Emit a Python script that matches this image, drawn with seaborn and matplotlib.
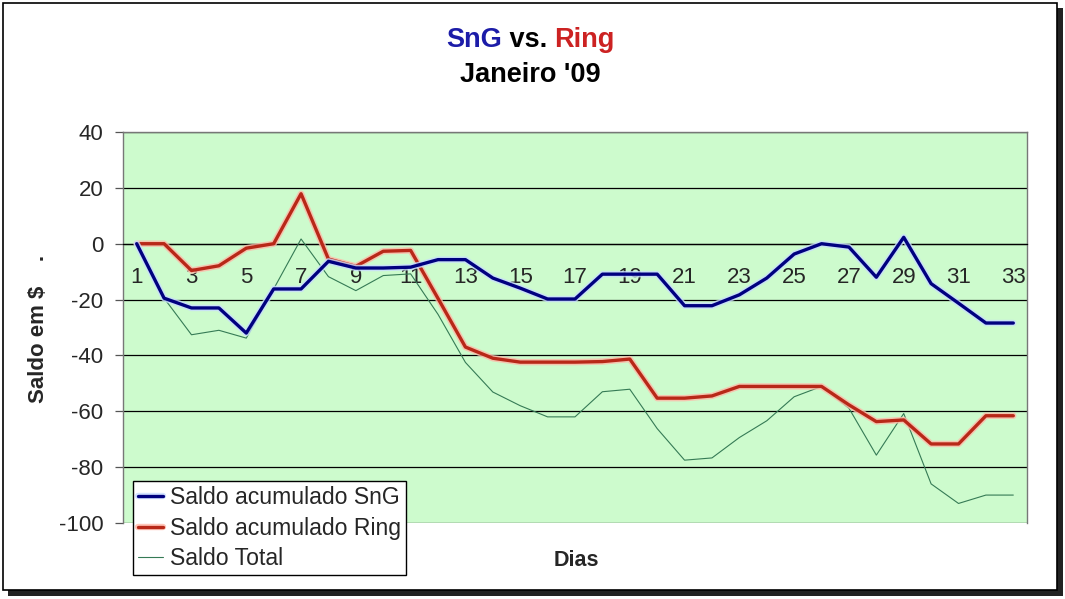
import matplotlib
matplotlib.use("Agg")
import numpy as np
import pandas as pd
import seaborn as sns
import matplotlib.pyplot as plt
import matplotlib.patheffects as pe
from matplotlib.patches import Rectangle

# ---------------- data ----------------
dias = [1, 2, 3, 4, 5, 6, 7, 8, 9, 10, 11, 12, 13, 14, 15, 16, 17,
        18, 19, 20, 21, 22, 23, 24, 25, 26, 27, 28, 29, 30, 31, 32, 33]
saldo_sng = [0, -19.5, -23, -23, -32, -16.2, -16.2, -6.3, -8.7, -8.7, -8.4,
             -5.7, -5.7, -12.3, -15.9, -19.8, -19.8, -10.9, -10.9, -10.9,
             -22.2, -22.2, -18.3, -12.3, -3.7, 0, -1.2, -12, 2.3, -14.3,
             -21.3, -28.4, -28.4]
saldo_ring = [0, 0, -9.6, -7.9, -1.6, 0, 17.9, -5.5, -8.1, -2.7, -2.4,
              -19.6, -37, -41, -42.4, -42.4, -42.4, -42.2, -41.3, -55.3,
              -55.3, -54.5, -51.1, -51.1, -51.1, -51.1, -57.7, -63.7, -63.1,
              -71.7, -71.7, -61.6, -61.6]
saldo_total = [0, -19.5, -32.6, -31, -33.8, -16.2, 1.7, -11.8, -16.8, -11.4,
               -10.8, -25.3, -42.5, -53.1, -58, -62, -62, -53, -52.1, -66.2,
               -77.5, -76.7, -69.4, -63.4, -54.8, -51.1, -58.9, -75.7, -60.8,
               -86, -93, -90, -90]
series_names = ["Saldo acumulado SnG", "Saldo acumulado Ring", "Saldo Total"]
y_ticks = [40, 20, 0, -20, -40, -60, -80, -100]
x_tick_labels = [1, 3, 5, 7, 9, 11, 13, 15, 17, 19, 21, 23, 25, 27, 29, 31, 33]

df = pd.DataFrame({"Dia": dias, series_names[0]: saldo_sng,
                   series_names[1]: saldo_ring, series_names[2]: saldo_total})

# ---------------- style ----------------
sns.set_style("white")
plt.rcParams["font.family"] = ["Liberation Sans", "DejaVu Sans"]

W, H = 1065, 599
fig = plt.figure(figsize=(W / 100, H / 100), dpi=100)
fig.patch.set_facecolor("white")

# figure frame with drop shadow
fig.patches.append(Rectangle((8 / W, 1 - 596 / H), (1063 - 8) / W, (596 - 8) / H,
                             transform=fig.transFigure, facecolor="#222222",
                             edgecolor="none", zorder=-10))
fig.patches.append(Rectangle((3 / W, 1 - 590 / H), (1057 - 3) / W, (590 - 3) / H,
                             transform=fig.transFigure, facecolor="white",
                             edgecolor="black", linewidth=1.2, zorder=-9))

left, right, top, bottom = 123, 1027, 132, 523
ax = fig.add_axes([left / W, 1 - bottom / H, (right - left) / W, (bottom - top) / H])
ax.set_facecolor("#cdfbcd")

blue = "#00007f"
red = "#b82818"
green = "#357a55"

sns.lineplot(data=df, x="Dia", y=series_names[2], ax=ax, color=green,
             linewidth=0.8, label=series_names[2], zorder=3)
sns.lineplot(data=df, x="Dia", y=series_names[1], ax=ax, color=red,
             linewidth=2.4, label=series_names[1], zorder=4,
             path_effects=[pe.Stroke(linewidth=4.6, foreground="#ffb8a8", alpha=0.8),
                           pe.Normal()])
sns.lineplot(data=df, x="Dia", y=series_names[0], ax=ax, color=blue,
             linewidth=2.4, label=series_names[0], zorder=5,
             path_effects=[pe.Stroke(linewidth=4.6, foreground="#c8dcff", alpha=0.8),
                           pe.Normal()])

ax.set_xlim(0.5, 33.5)
ax.set_ylim(-100, 40)
ax.set_yticks(y_ticks)
ax.set_yticklabels([str(v) for v in y_ticks], fontsize=16)
ax.yaxis.grid(True, color="black", linewidth=0.9)
ax.set_axisbelow(True)

# x axis crossing at zero, tick marks between categories
ax.spines["bottom"].set_position(("data", 0))
ax.spines["bottom"].set_color("black")
ax.spines["bottom"].set_linewidth(0.9)
ax.set_xticks(x_tick_labels)
ax.set_xticklabels([str(v) for v in x_tick_labels], fontsize=16)
ax.set_xticks([d - 0.5 for d in dias] + [dias[-1] + 0.5], minor=True)
ax.tick_params(axis="x", which="major", length=0, pad=17)
ax.tick_params(axis="x", which="minor", length=6, width=0.9, color="black",
               direction="out")
ax.tick_params(axis="y", which="major", length=6, width=0.9, color="#555555",
               direction="out", pad=8, left=True)
for s in ["left", "right", "top"]:
    ax.spines[s].set_color("#777777")
    ax.spines[s].set_linewidth(1.0)

ax.set_xlabel("")
ax.set_ylabel("Saldo em $    .", fontsize=16, fontweight="bold")
ax.yaxis.set_label_coords((49 - left) / (right - left), (bottom - 329) / (bottom - top))

# legend
handles, labels = ax.get_legend_handles_labels()
order = [labels.index(n) for n in series_names]
leg = ax.legend([handles[i] for i in order], [labels[i] for i in order],
                loc="upper left", bbox_to_anchor=(133 / W, 1 - 481 / H),
                bbox_transform=fig.transFigure, fontsize=16.6, frameon=True,
                fancybox=False, framealpha=1, edgecolor="black",
                handlelength=1.1, handletextpad=0.3, borderpad=0.22,
                labelspacing=0.33, borderaxespad=0)
leg.get_frame().set_linewidth(1.0)
leg.set_zorder(10)

# x label
fig.text(576 / W, 1 - 561 / H, "Dias", fontsize=15.5, fontweight="bold",
         ha="center", va="center")

# title: coloured pieces
pieces = [("SnG", "#1c1ca8"), (" vs. ", "black"), ("Ring", "#cc2222")]
fig.canvas.draw()
renderer = fig.canvas.get_renderer()
texts = []
for txt, col in pieces:
    t = fig.text(0, 1 - 47 / H, txt, color=col, fontsize=19.5,
                 fontweight="bold", ha="left", va="baseline")
    texts.append(t)
widths = [t.get_window_extent(renderer).width for t in texts]
total = sum(widths)
x0 = 530.5 - total / 2
for t, w in zip(texts, widths):
    t.set_x(x0 / W)
    x0 += w
fig.text(530.5 / W, 1 - 82 / H, "Janeiro '09", color="black", fontsize=19.5,
         fontweight="bold", ha="center", va="baseline")

fig.savefig("out.png", dpi=100)
